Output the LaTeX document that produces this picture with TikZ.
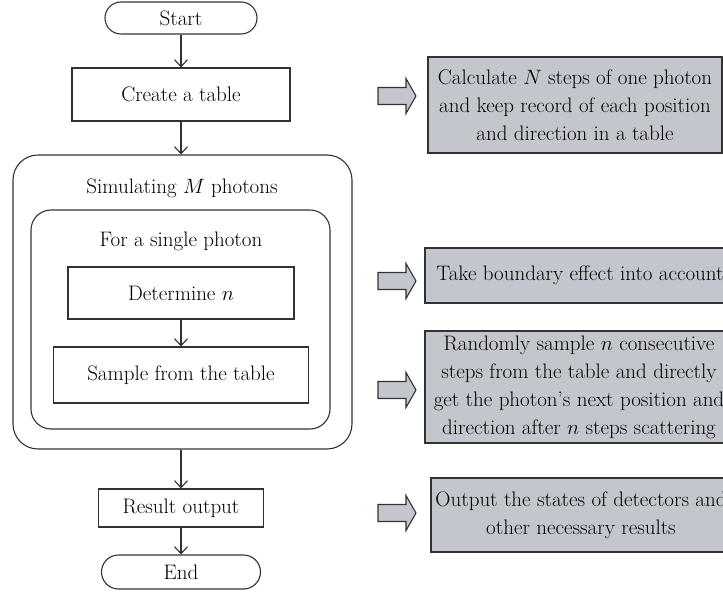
\documentclass[tikz,border=0pt]{standalone}
\usetikzlibrary{arrows.meta}
\definecolor{notegray}{RGB}{196,198,205}
\definecolor{inkgray}{RGB}{50,50,50}

\begin{document}
\begin{tikzpicture}[x=1pt,y=-1pt,
  font=\fontsize{21}{28}\selectfont,
  line width=1.1pt, draw=inkgray,
  term/.style={draw=inkgray, rectangle, rounded corners=16pt, inner sep=0pt},
  proc/.style={draw=inkgray, rectangle, inner sep=0pt},
  frame/.style={draw=inkgray, rectangle, rounded corners=#1, inner sep=0pt},
  note/.style={draw=inkgray, fill=notegray, align=center, inner sep=0pt},
  flow/.style={->, >={Straight Barb[length=7pt,width=13pt]}}]
\clip (0,0) rectangle (723,596);

% main flow
\node[term, minimum width=152pt, minimum height=32pt] (start) at (181,18) {Start};
\node[proc, minimum width=218pt, minimum height=53pt] (create) at (181,94.5) {Create a table};
\node[frame=25pt, minimum width=339pt, minimum height=294pt] (sim) at (182.5,302) {};
\node (simtitle) at (182,188) {Simulating $M$ photons};
\node[frame=20pt, minimum width=299pt, minimum height=219pt] (single) at (180.5,319.5) {};
\node (singletitle) at (181,241) {For a single photon};
\node[proc, minimum width=226pt, minimum height=52pt] (determine) at (181,293) {Determine $n$};
\node[proc, minimum width=255pt, minimum height=56pt] (sample) at (181,375) {Sample from the table};
\node[proc, minimum width=165pt, minimum height=38pt] (result) at (181,508) {Result output};
\node[term, minimum width=159pt, minimum height=34pt, rounded corners=17pt] (stop) at (181,572) {End};

\draw[flow] (start) -- (create);
\draw[flow] (create) -- (create |- sim.north);
\draw[flow] (determine) -- (sample);
\draw[flow] (sim.south -| result) -- (result);
\draw[flow] (result) -- (stop);

% notes on the right
\node[note, minimum width=294pt, minimum height=96pt] (calc) at (575,105)
  {Calculate $N$ steps of one photon\\and keep record of each position\\and direction in a table};
\node[note, minimum width=310pt, minimum height=55pt] (boundary) at (580,275.5)
  {Take boundary effect into account};
\node[note, minimum width=308pt, minimum height=112pt] (randsample) at (579,387)
  {Randomly sample $n$ consecutive\\steps from the table and directly\\get the photon's next position and\\direction after $n$ steps scattering};
\node[note, minimum width=300pt, minimum height=74pt] (states) at (581,515)
  {Output the states of detectors and\\other necessary results};

% gray block arrows
\foreach \y in {96,281,390,513} {
 \draw[fill=notegray] (378,\y-8.5) -- (406,\y-8.5) -- (406,\y-17.5) -- (416,\y)
   -- (406,\y+17.5) -- (406,\y+8.5) -- (378,\y+8.5) -- cycle;
}
\end{tikzpicture}
\end{document}
